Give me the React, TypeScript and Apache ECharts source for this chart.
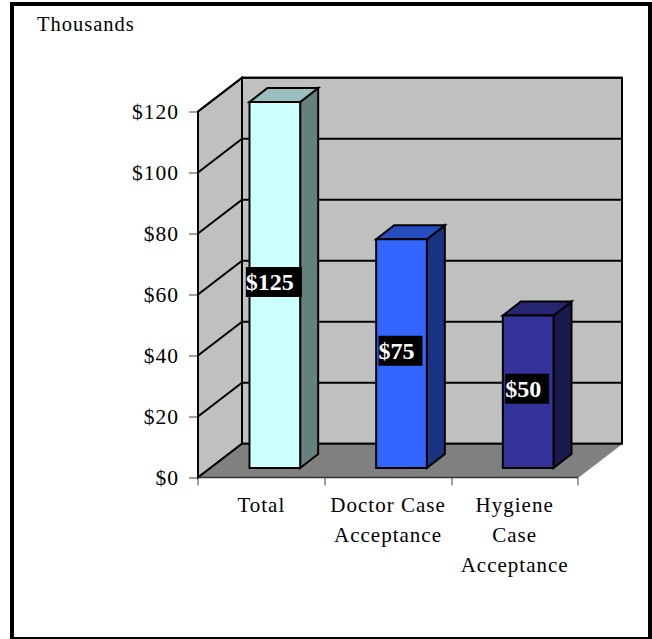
import React, { useEffect, useRef } from "react";
import * as echarts from "echarts";

const categories = ["Total", "Doctor Case\nAcceptance", "Hygiene\nCase\nAcceptance"];
const values = [125, 75, 50];
const axisTicks = [0, 20, 40, 60, 80, 100, 120];
const axisMax = 120;
const faceColors = ["#CCFFFF", "#3366FF", "#333399"];
const topColors = ["#99BFBF", "#264DBF", "#262673"];
const sideColors = ["#668080", "#1A3380", "#1A1A4D"];

const FONT = '"Liberation Serif", serif';
const DEPTH_X = 44;
const DEPTH_Y = 33.7;
const LINE = { stroke: "#000", lineWidth: 2, fill: "none" };

function renderScene(params: any, api: any) {
  const tick = api.value(1);
  const y = api.coord([0, tick])[1];
  const cs = params.coordSys;
  const x0 = cs.x;
  const x1 = cs.x + cs.width;
  const yBase = cs.y + cs.height;
  const yTop = cs.y;
  const children: any[] = [];
  if (params.dataIndex === 0) {
    children.push(
      {
        type: "polygon",
        shape: { points: [[x0 + DEPTH_X, yTop - DEPTH_Y], [x1 + DEPTH_X, yTop - DEPTH_Y], [x1 + DEPTH_X, yBase - DEPTH_Y], [x0 + DEPTH_X, yBase - DEPTH_Y]] },
        style: { fill: "#C0C0C0", stroke: "#000", lineWidth: 2 },
      },
      {
        type: "polygon",
        shape: { points: [[x0, yTop], [x0 + DEPTH_X, yTop - DEPTH_Y], [x0 + DEPTH_X, yBase - DEPTH_Y], [x0, yBase]] },
        style: { fill: "#C0C0C0", stroke: "#000", lineWidth: 2 },
      },
      {
        type: "polygon",
        shape: { points: [[x0, yBase], [x1, yBase], [x1 + DEPTH_X, yBase - DEPTH_Y], [x0 + DEPTH_X, yBase - DEPTH_Y]] },
        style: { fill: "#808080", stroke: "#808080", lineWidth: 1 },
      },
      { type: "line", shape: { x1: x0, y1: yBase, x2: x0 + DEPTH_X, y2: yBase - DEPTH_Y }, style: LINE },
      { type: "line", shape: { x1: x0 + DEPTH_X, y1: yBase - DEPTH_Y, x2: x1 + DEPTH_X, y2: yBase - DEPTH_Y }, style: LINE },
      { type: "line", shape: { x1: x0, y1: yBase, x2: x1, y2: yBase }, style: { stroke: "#333", lineWidth: 1.5 } },
    );
  }
  if (tick > 0) {
    children.push({
      type: "polyline",
      shape: { points: [[x0, y], [x0 + DEPTH_X, y - DEPTH_Y], [x1 + DEPTH_X, y - DEPTH_Y]] },
      style: LINE,
    });
  }
  return { type: "group", children };
}

function renderBar(params: any, api: any) {
  const i = params.dataIndex;
  const v = api.value(1);
  const clamped = Math.min(v, axisMax);
  const band = api.size([1, 0])[0];
  const cx = api.coord([i, 0])[0] + 13.5;
  const half = band * 0.2;
  const l = cx - half;
  const r = cx + half;
  const b = api.coord([i, 0])[1] - 9.5;
  const t = api.coord([i, clamped])[1] - 9.5;
  const dx = 18;
  const dy = 14;
  const edge = { stroke: "#000", lineWidth: 2, lineJoin: "miter" };
  return {
    type: "group",
    children: [
      { type: "polygon", shape: { points: [[r, t], [r + dx, t - dy], [r + dx, b - dy], [r, b]] }, style: { fill: sideColors[i], ...edge } },
      { type: "polygon", shape: { points: [[l, t], [l + dx, t - dy], [r + dx, t - dy], [r, t]] }, style: { fill: topColors[i], ...edge } },
      { type: "rect", shape: { x: l, y: t, width: r - l, height: b - t }, style: { fill: faceColors[i], ...edge } },
      {
        type: "text",
        z2: 100,
        style: {
          text: "$" + v,
          x: cx - 1,
          y: (t + b) / 2 - 3,
          align: "center",
          verticalAlign: "middle",
          fill: "#fff",
          backgroundColor: "#000",
          padding: [3, 8, 3, 0],
          font: `bold 24px ${FONT}`,
        },
      },
    ],
  };
}

export default function App() {
  const ref = useRef<HTMLDivElement>(null);
  useEffect(() => {
    const chart = echarts.init(ref.current!, undefined, { renderer: "svg" });
    chart.setOption({
      animation: false,
      backgroundColor: "#fff",
      textStyle: { fontFamily: FONT },
      grid: { left: 198, right: 74, top: 111.5, bottom: 161.5, containLabel: false },
      xAxis: {
        type: "category",
        data: categories,
        axisLine: { show: false },
        axisTick: { show: true, length: 8, alignWithLabel: false, lineStyle: { color: "#808080", width: 1.5 } },
        axisLabel: { color: "#000", fontFamily: FONT, fontSize: 21, lineHeight: 30, margin: 12, interval: 0 },
        splitLine: { show: false },
      },
      yAxis: {
        type: "value",
        min: 0,
        max: axisMax,
        interval: 20,
        axisLine: { show: false },
        axisTick: { show: true, length: 9, lineStyle: { color: "#808080", width: 1.5 } },
        axisLabel: { color: "#000", fontFamily: FONT, fontSize: 21.5, margin: 19, padding: [0, 0, 2, 0], formatter: (v: number) => "$" + v },
        splitLine: { show: false },
      },
      graphic: [
        { type: "rect", z: -1, silent: true, shape: { x: 12, y: 4, width: 638, height: 635 }, style: { fill: "none", stroke: "#000", lineWidth: 4 } },
        { type: "text", x: 37, y: 13, style: { text: "Thousands", fill: "#000", font: `20.5px ${FONT}` } },
      ],
      series: [
        { type: "custom", coordinateSystem: "cartesian2d", clip: false, silent: true, encode: { x: 0, y: 1 }, data: axisTicks.map((t) => [0, t]), renderItem: renderScene, z: 1 },
        { type: "custom", coordinateSystem: "cartesian2d", clip: false, silent: true, encode: { x: 0, y: 1 }, data: values.map((v, i) => [i, v]), renderItem: renderBar, z: 2 },
      ],
    });
    return () => chart.dispose();
  }, []);
  return (
    <>
      <style>{`body{margin:0} #chart svg text{letter-spacing:1px} #chart svg text[style*="bold"]{letter-spacing:0}`}</style>
      <div id="chart" ref={ref} style={{ position: "fixed", left: 0, top: 0, width: 652, height: 639 }} />
    </>
  );
}
